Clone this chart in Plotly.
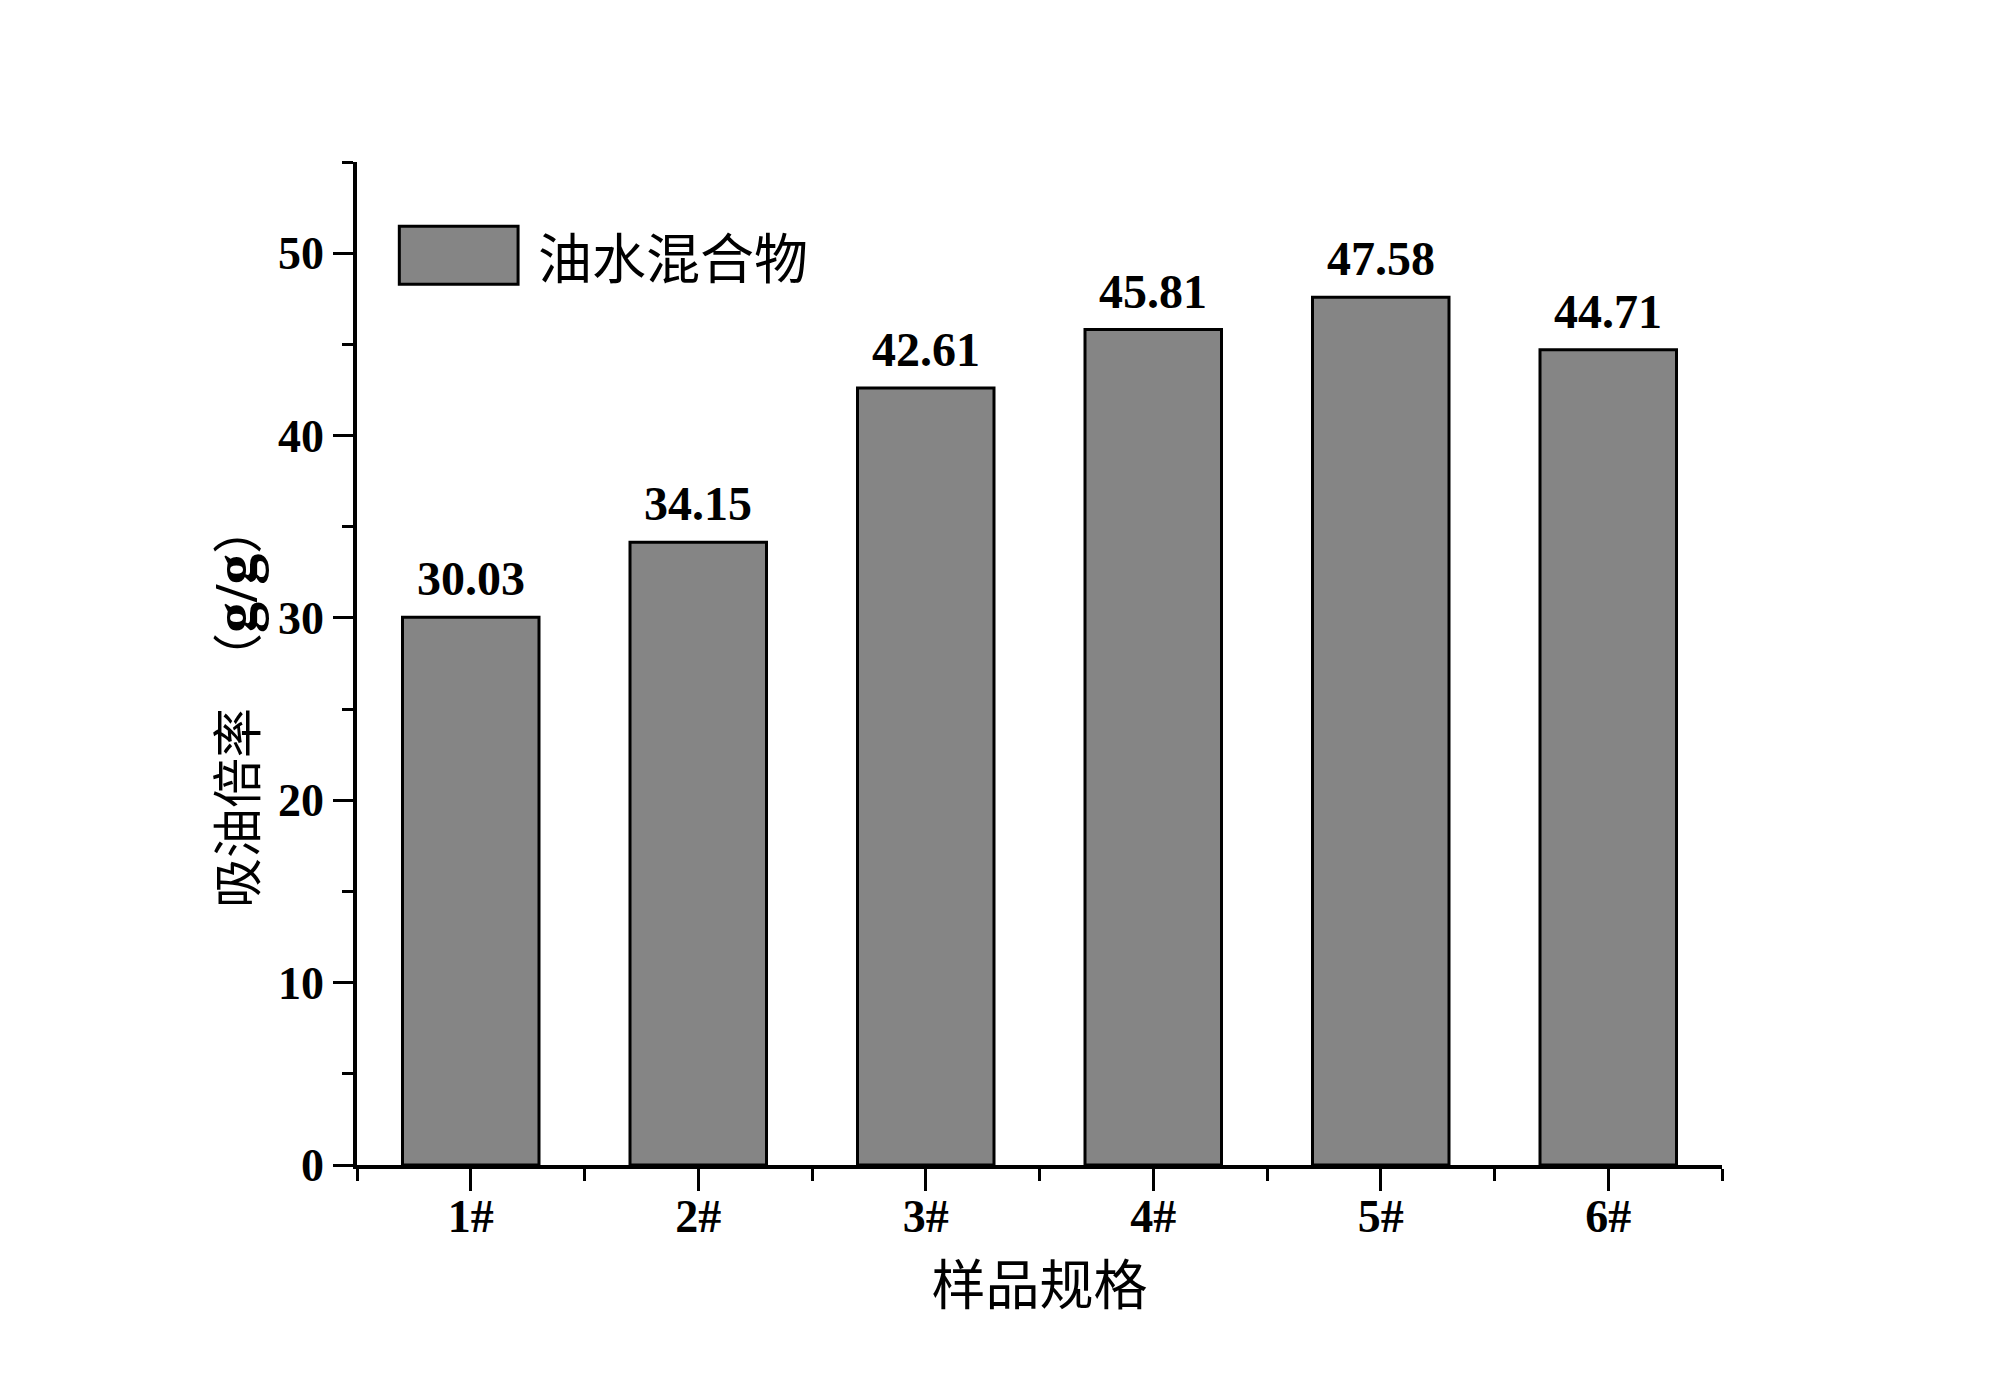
import plotly.graph_objects as go

categories = ["1#", "2#", "3#", "4#", "5#", "6#"]
positions = [1, 2, 3, 4, 5, 6]
values = [30.03, 34.15, 42.61, 45.81, 47.58, 44.71]
labels = ["30.03", "34.15", "42.61", "45.81", "47.58", "44.71"]
series_name = "油水混合物"
x_title = "样品规格"
y_title = "吸油倍率　（<span style=\"font-family:Liberation Serif;font-size:62px\"><b>g/g</b></span>）"

SERIF = "Liberation Serif, Times New Roman, Noto Sans CJK SC"
CJK = "Noto Sans CJK SC, Liberation Serif"

fig = go.Figure()
fig.add_trace(go.Bar(
    x=positions, y=values, name=series_name, width=0.6,
    marker=dict(color="#858585", line=dict(color="black", width=3)),
    showlegend=False,
))

for xp, v, t in zip(positions, values, labels):
    fig.add_annotation(x=xp, y=v, text="<b>%s</b>" % t, showarrow=False,
                       yanchor="bottom", yshift=10,
                       font=dict(family=SERIF, size=48, color="black"))

# legend drawn manually (large swatch like the original)
fig.add_shape(type="rect", xref="paper", yref="paper",
              x0=0.031, x1=0.118, y0=0.878, y1=0.936,
              fillcolor="#858585", line=dict(color="black", width=3))
fig.add_annotation(xref="paper", yref="paper", x=0.131, y=0.907,
                   xanchor="left", yanchor="middle", showarrow=False,
                   text=series_name,
                   font=dict(family=CJK, size=54, color="black"))

# y-axis title (placed like the original, slightly below the axis centre)
fig.add_annotation(xref="paper", yref="paper", x=-0.0905, y=0.458,
                   xanchor="center", yanchor="middle", showarrow=False,
                   textangle=-90, text=y_title,
                   font=dict(family=CJK, size=50, color="black"))

fig.update_layout(
    width=2000, height=1397,
    paper_bgcolor="white", plot_bgcolor="white",
    margin=dict(l=349, r=286, t=154, b=240),
    bargap=0.4,
)
fig.update_xaxes(
    range=[0.5, 6.5], tickmode="array", tickvals=positions,
    ticktext=["<b>%s</b>" % c for c in categories],
    tickfont=dict(family=SERIF, size=46, color="black"),
    ticklabelstandoff=-14,
    showline=True, linecolor="black", linewidth=3.5,
    ticks="outside", ticklen=22, tickwidth=3, tickcolor="black",
    minor=dict(tickmode="linear", tick0=0.5, dtick=1, ticks="outside",
               ticklen=12, tickwidth=3, tickcolor="black"),
    showgrid=False, zeroline=False,
    title=dict(text=x_title, font=dict(family=CJK, size=54, color="black"), standoff=16),
)
fig.update_yaxes(
    range=[0, 55], tickmode="linear", tick0=0, dtick=10,
    tickfont=dict(family=SERIF, size=46, color="black"),
    tickprefix="<b>", ticksuffix="</b>",
    showline=True, linecolor="black", linewidth=3.5,
    ticks="outside", ticklen=20, tickwidth=3, tickcolor="black",
    minor=dict(tickmode="linear", tick0=5, dtick=10, ticks="outside",
               ticklen=11, tickwidth=3, tickcolor="black"),
    showgrid=False, zeroline=False,
)

fig.write_html("out.html")
